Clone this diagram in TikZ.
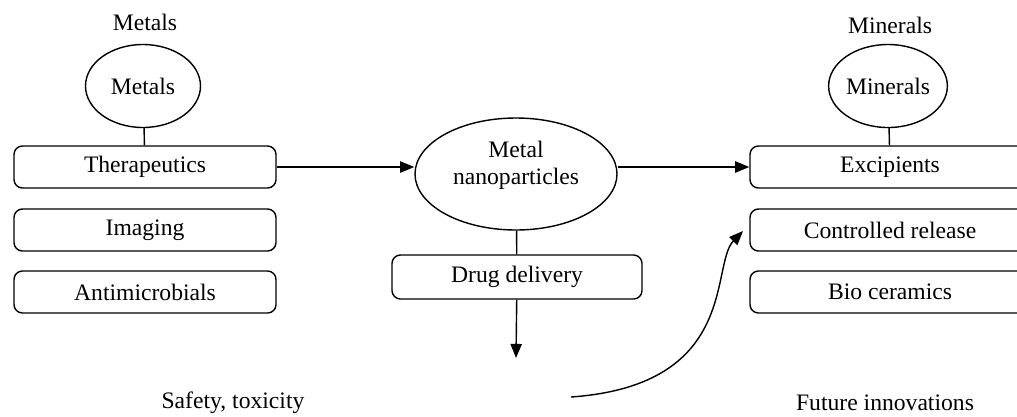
\documentclass[tikz,border=0pt]{standalone}
\usepackage{fontspec}
\setmainfont{Liberation Serif}
\usetikzlibrary{arrows.meta, shapes.geometric, positioning, calc}

\begin{document}
\begin{tikzpicture}[
    x=0.025cm, y=-0.025cm,
    every node/.style={font=\fontsize{16.8}{19.2}\selectfont},
    box/.style={draw, rounded corners=6pt, line width=1pt,
                minimum width=262*0.025cm, minimum height=42*0.025cm},
    blob/.style={ellipse, draw, line width=1pt, inner sep=0pt},
    arr/.style={-{Triangle[length=10pt, width=8pt]}, line width=1pt},
    link/.style={line width=1pt}
  ]
  \clip (0,0) rectangle (1017,416);
  \fill[white] (0,0) rectangle (1017,416);

  % metals side
  \node (metalstitle) at (145,22) {Metals};
  \node[blob, minimum width=115*0.025cm, minimum height=83*0.025cm]
    (metals) at (143,86) {Metals};
  \node[box] (thera) at (145,167) {Therapeutics};
  \node[box] (imaging) at (145,230) {Imaging};
  \node[box] (antimic) at (145,292) {Antimicrobials};

  % centre
  \node[blob, minimum width=202*0.025cm, minimum height=112*0.025cm]
    (nano) at (516,174) {};
  \node[align=center] (nanotext) at (516,165) {Metal\\nanoparticles};
  \node[box, minimum width=250*0.025cm, minimum height=44*0.025cm]
    (drug) at (517,277) {Drug delivery};
  \coordinate (drugend) at (516,358);
  \coordinate (curvestart) at (571,397);
  \coordinate (curveend) at (743,231);

  % minerals side
  \node (mineralstitle) at (890,25) {Minerals};
  \node[blob, minimum width=116*0.025cm, minimum height=83*0.025cm]
    (minerals) at (888,86) {Minerals};
  \node[box, minimum width=280*0.025cm] (excip) at (890,167) {Excipients};
  \node[box, minimum width=280*0.025cm] (control) at (890,230) {Controlled release};
  \node[box, minimum width=280*0.025cm] (bioc) at (890,292) {Bio ceramics};

  % bottom labels
  \node (safety) at (233,403) {Safety, toxicity};
  \node (future) at (885,403) {Future innovations};

  % connectors
  \draw[link] (metals) -- (thera);
  \draw[link] (minerals) -- (excip);
  \draw[link] (nano) -- (drug);
  \draw[arr] (thera.east) -- (thera.east -| nano.west);
  \draw[arr] (nano.east |- excip.west) -- (excip.west);
  \draw[arr] (drug) -- (drugend);
  \draw[arr] (curvestart) .. controls (740,385) and (710,265) .. (curveend);
\end{tikzpicture}
\end{document}
